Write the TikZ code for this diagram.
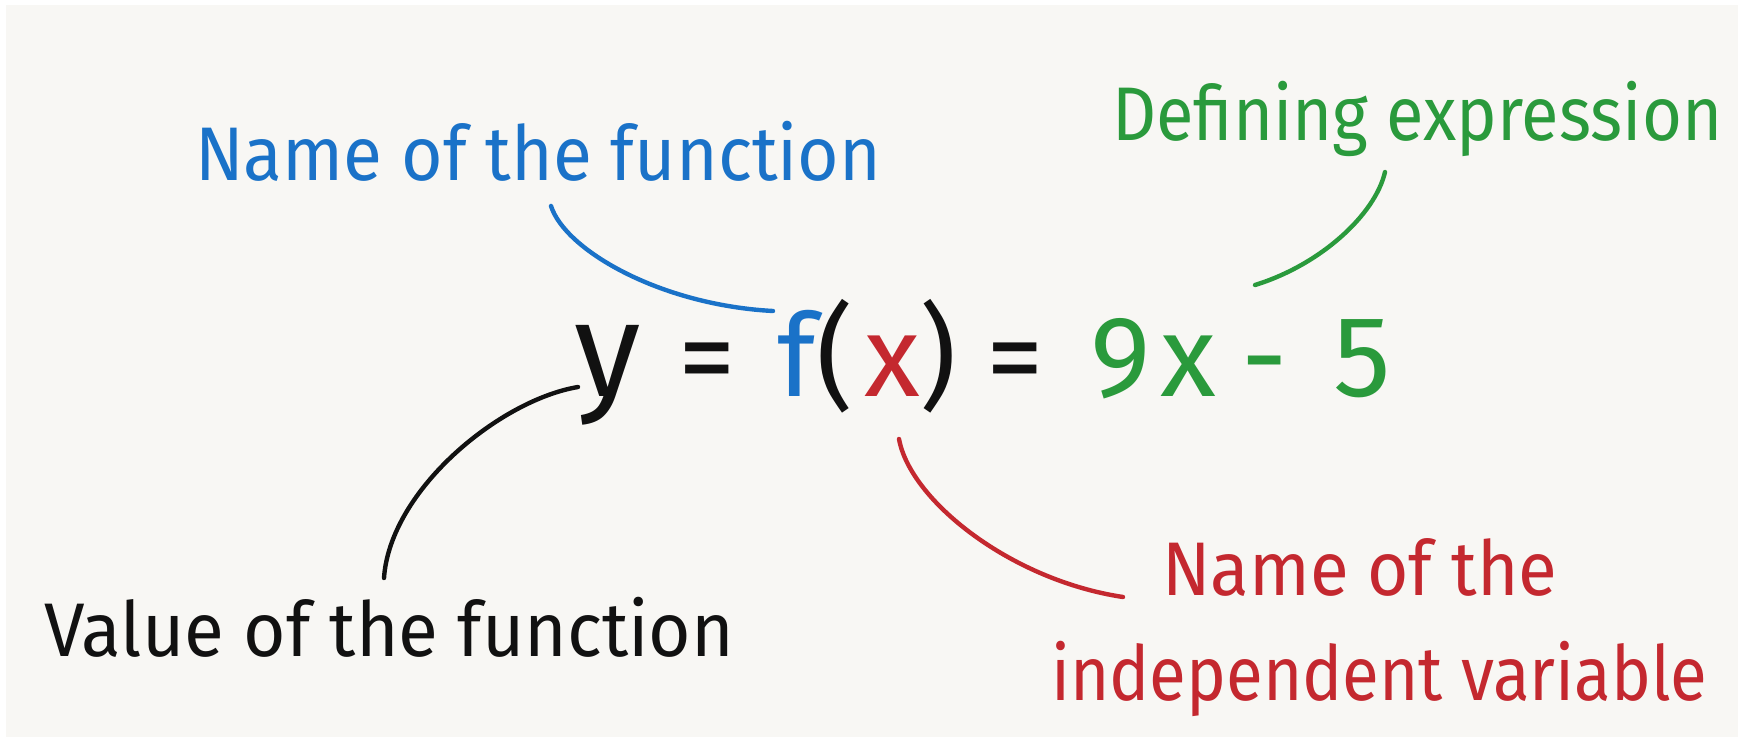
\documentclass[tikz,border=0pt]{standalone}
\usepackage{graphicx}
\usepackage{fontspec}
\setmainfont{Fira Sans}
\usetikzlibrary{calc}
\definecolor{bgc}{HTML}{F8F7F4}
\definecolor{fblue}{HTML}{1A72C8}
\definecolor{fgreen}{HTML}{2A9A3C}
\definecolor{fred}{HTML}{C4282F}
\definecolor{fblack}{HTML}{111111}
\begin{document}
\begin{tikzpicture}[x=1pt,y=-1pt,
  lbl/.style={inner sep=0pt, anchor=base west, font=\fontsize{76}{90}\selectfont},
  eqn/.style={inner sep=0pt, anchor=base, font=\fontsize{115}{130}\selectfont},
  conn/.style={line width=4.4pt, line cap=round}]
\useasboundingbox (0,0) rectangle (1744,741);
\fill[white] (0,0) rectangle (1744,741);
\fill[bgc] (6,5) rectangle (1738,737);

% labels
\node[lbl, text=fblue] (lblF) at (195,180) {\resizebox{686pt}{\height}{Name of the function}};
\node[lbl, text=fgreen] (lblD) at (1112,141) {\resizebox{610pt}{\height}{Defining expression}};
\node[lbl, text=fblack] (lblV) at (44,656) {\resizebox{690pt}{\height}{Value of the function}};
\node[lbl, text=fred] (redA) at (1162,595) {\resizebox{395pt}{\height}{Name of the}};
\node[lbl, text=fred] (redB) at (1051,700) {\resizebox{656pt}{\height}{independent variable}};

% equation
\node[eqn, text=fblack, font=\fontsize{135}{150}\selectfont] (eqy) at (608,396) {y};
\node[eqn, text=fblack] (eqA) at (707,396) {=};
\node[eqn, text=fblue]  (eqf) at (797,396) {f};
\node[eqn, text=fblack] (eqL) at (835,396) {(};
\node[eqn, text=fred]   (eqx) at (892,396) {x};
\node[eqn, text=fblack] (eqR) at (938,396) {)};
\node[eqn, text=fblack] (eqB) at (1015,396) {=};
\node[eqn, text=fgreen] (eqn9) at (1121,396) {9};
\node[eqn, text=fgreen] (eqx2) at (1188,396) {x};
\node[eqn, text=fgreen] (eqm) at (1265,396) {-};
\node[eqn, text=fgreen] (eq5) at (1362,396) {5};

% connectors
\draw[conn, fblue] ($(lblF.base west)+(356,26)$) .. controls +(14,44) and +(-113,-6) .. ($(eqf.base)+(-24,-85)$);
\draw[conn, fgreen] ($(lblD.base west)+(273,31)$) .. controls +(-10,43) and +(65,-20) .. ($(eqx2.base)+(67,-111)$);
\draw[conn, fblack] ($(lblV.base west)+(340,-78)$) .. controls +(6,-88) and +(-78,13) .. ($(eqy.base)+(-30,-9)$);
\draw[conn, fred] ($(eqx.base)+(7,43)$) .. controls +(11,61) and +(-113,-17) .. ($(redA.base west)+(-39,2)$);
\end{tikzpicture}
\end{document}
